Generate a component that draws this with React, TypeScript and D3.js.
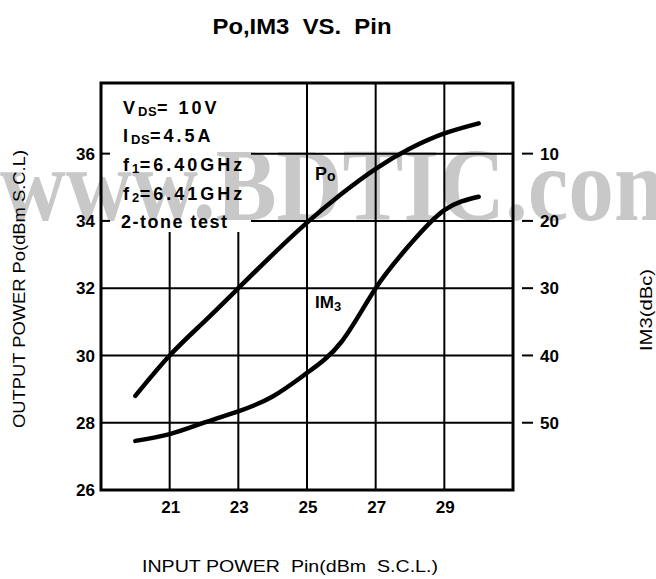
import * as d3 from "d3";

// input power (dBm S.C.L.)
const pin = [20, 21, 22, 23, 24, 25, 26, 27, 28, 29, 30];
// output power Po (dBm)
const po = [28.8, 30.0, 31.0, 32.0, 33.0, 33.95, 34.8, 35.55, 36.15, 36.6, 36.9];
// IM3 (dBc, magnitude as on the right axis)
const im3 = [52.7, 51.7, 50.0, 48.3, 46.1, 42.6, 38.0, 30.0, 23.5, 18.4, 16.4];

const xTicks = [21, 23, 25, 27, 29];
const poTicks = [26, 28, 30, 32, 34, 36];
const im3Ticks = [10, 20, 30, 40, 50];

const W = 656;
const H = 579;
const FONT = "'Liberation Sans', Arial, sans-serif";

const App = () => {
  const left = 101, right = 513, top = 83, bottom = 490;

  const x = d3.scaleLinear().domain([19, 31]).range([left, right]);
  const y = d3.scaleLinear().domain([26, 38.1]).range([bottom, top]);
  // right axis: 10 dBc lines up with 36 dBm, 50 dBc with 28 dBm
  const y2 = d3.scaleLinear().domain([10, 50]).range([y(36), y(28)]);

  const poLine = d3
    .line<number>()
    .x((_, i) => x(pin[i]))
    .y((d) => y(d))
    .curve(d3.curveNatural);
  const imLine = d3
    .line<number>()
    .x((_, i) => x(pin[i]))
    .y((d) => y2(d))
    .curve(d3.curveNatural);

  // blank area behind the test conditions
  const box = { x: left, y: top, w: 150, h: 149 };

  const sub = { fontSize: 13, letterSpacing: 0.5 };

  return (
    <svg
      width={W}
      height={H}
      viewBox={`0 0 ${W} ${H}`}
      style={{ position: "absolute", left: 0, top: 0, background: "#fff" }}
    >
      <defs>
        <mask id="gridMask">
          <rect x={0} y={0} width={W} height={H} fill="#fff" />
          <rect x={box.x} y={box.y} width={box.w} height={box.h} fill="#000" />
        </mask>
      </defs>

      <text
        x={302}
        y={34}
        textAnchor="middle"
        fontFamily={FONT}
        fontWeight="bold"
        fontSize={22}
        textLength={179}
        lengthAdjust="spacingAndGlyphs"
        style={{ whiteSpace: "pre" }}
      >
        {"Po,IM3  VS.  Pin"}
      </text>

      {/* watermark */}
      <text
        x={0}
        y={220}
        fontFamily="'Liberation Serif', 'Times New Roman', serif"
        fontWeight="bold"
        fontSize={104}
        fill="#c8c8c8"
        textLength={690}
        lengthAdjust="spacingAndGlyphs"
      >
        www.BDTIC.com
      </text>

      {/* grid */}
      <g mask="url(#gridMask)" stroke="#000" strokeWidth={2}>
        {xTicks.map((t) => (
          <line key={"vx" + t} x1={x(t)} x2={x(t)} y1={top} y2={bottom} />
        ))}
        {poTicks.slice(1).map((t) => (
          <line key={"hy" + t} x1={left} x2={right} y1={y(t)} y2={y(t)} />
        ))}
      </g>
      {/* short ticks inside the blank area */}
      {poTicks
        .filter((t) => y(t) < box.y + box.h)
        .map((t) => (
          <line key={"st" + t} x1={left} x2={left + 9} y1={y(t)} y2={y(t)} stroke="#000" strokeWidth={2} />
        ))}

      {/* frame */}
      <rect x={left} y={top} width={right - left} height={bottom - top} fill="none" stroke="#000" strokeWidth={3} />

      {/* left tick labels */}
      {poTicks.map((t) => (
        <text
          key={"yl" + t}
          x={95}
          y={y(t)}
          dy="0.36em"
          textAnchor="end"
          fontFamily={FONT}
          fontWeight="bold"
          fontSize={17}
        >
          {t}
        </text>
      ))}

      {/* bottom tick labels */}
      {xTicks.map((t) => (
        <text
          key={"xl" + t}
          x={x(t) + 1}
          y={513}
          textAnchor="middle"
          fontFamily={FONT}
          fontWeight="bold"
          fontSize={17}
        >
          {t}
        </text>
      ))}

      {/* right ticks and labels */}
      {im3Ticks.map((t) => (
        <g key={"r" + t}>
          <line x1={522} x2={533} y1={y2(t)} y2={y2(t)} stroke="#000" strokeWidth={2} />
          <text
            x={540}
            y={y2(t)}
            dy="0.36em"
            fontFamily={FONT}
            fontWeight="bold"
            fontSize={17}
          >
            {t}
          </text>
        </g>
      ))}

      {/* curves */}
      <path d={poLine(po) ?? ""} fill="none" stroke="#000" strokeWidth={4.5} strokeLinecap="round" />
      <path d={imLine(im3) ?? ""} fill="none" stroke="#000" strokeWidth={4.5} strokeLinecap="round" />

      {/* curve labels */}
      <text x={315} y={180} fontFamily={FONT} fontWeight="bold" fontSize={18}>
        P<tspan fontSize={14} dy={1}>o</tspan>
      </text>
      <text x={315} y={308} fontFamily={FONT} fontWeight="bold" fontSize={17}>
        IM<tspan fontSize={13} dy={3}>3</tspan>
      </text>

      {/* test conditions */}
      <g fontFamily={FONT} fontWeight="bold" fontSize={18} letterSpacing={3}>
        <text x={123} y={114}>
          V<tspan {...sub} dy={2}>DS</tspan>
          <tspan dy={-2}>= 10V</tspan>
        </text>
        <text x={123} y={142}>
          I<tspan {...sub} dy={2}>DS</tspan>
          <tspan dy={-2}>=4.5A</tspan>
        </text>
        <text x={123} y={171}>
          f<tspan {...sub} dy={2}>1</tspan>
          <tspan dy={-2}>=6.40GHz</tspan>
        </text>
        <text x={123} y={200}>
          f<tspan {...sub} dy={2}>2</tspan>
          <tspan dy={-2}>=6.41GHz</tspan>
        </text>
        <text x={121} y={228} letterSpacing={1.5}>
          2-tone test
        </text>
      </g>

      {/* axis titles */}
      <text
        transform="translate(25,289) rotate(-90)"
        textAnchor="middle"
        fontFamily={FONT}
        fontSize={17}
        textLength={278}
        lengthAdjust="spacingAndGlyphs"
      >
        OUTPUT POWER Po(dBm S.C.L)
      </text>
      <text
        transform="translate(652,310) rotate(-90)"
        textAnchor="middle"
        fontFamily={FONT}
        fontSize={17}
        textLength={82}
        lengthAdjust="spacingAndGlyphs"
      >
        IM3(dBc)
      </text>
      <text
        x={290}
        y={572}
        textAnchor="middle"
        fontFamily={FONT}
        fontSize={17}
        textLength={296}
        lengthAdjust="spacingAndGlyphs"
        style={{ whiteSpace: "pre" }}
      >
        {"INPUT POWER  Pin(dBm  S.C.L.)"}
      </text>
    </svg>
  );
};

export default App;
